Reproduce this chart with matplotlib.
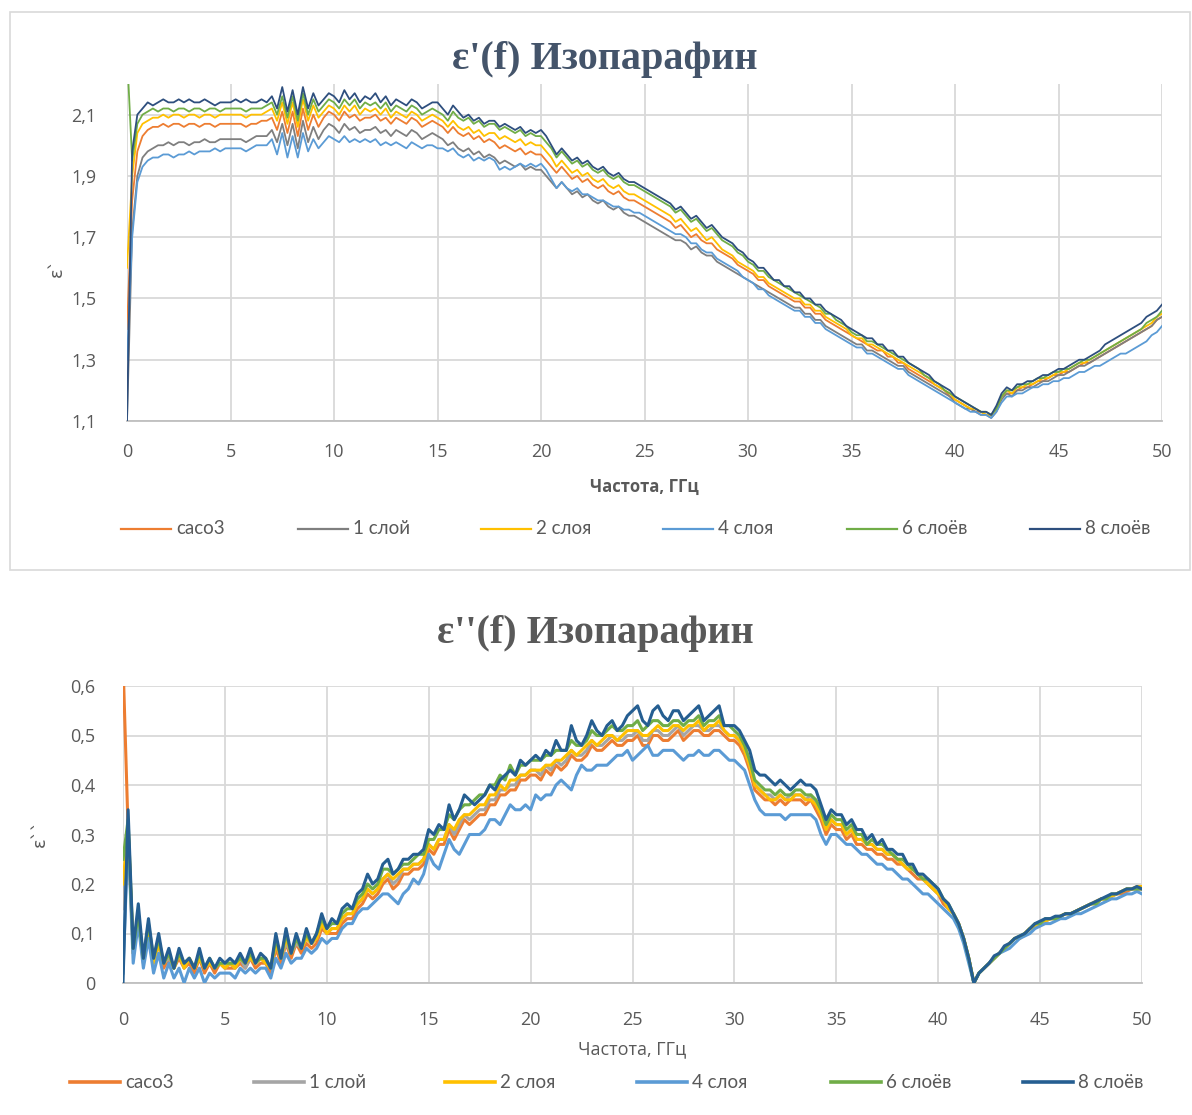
import numpy as np
import matplotlib
matplotlib.use('Agg')
import matplotlib.pyplot as plt
from matplotlib.lines import Line2D
from matplotlib.patches import Rectangle

# Frequency grid, GHz (0 ... 50 with 0.25 step)
freq = np.arange(0, 50.001, 0.25)

series_names = ['caco3', '1 слой', '2 слоя', '4 слоя', '6 слоёв', '8 слоёв']

# ---------- eps' (top chart) ----------
eps1_caco3 = [1.40,
    1.82, 1.98, 2.03, 2.05, 2.06, 2.06, 2.07, 2.06, 2.07, 2.07, 2.06, 2.07, 2.07, 2.06, 2.07, 2.07, 2.06, 2.07, 2.07, 2.07,
    2.07, 2.07, 2.06, 2.07, 2.07, 2.08, 2.08, 2.09, 2.05, 2.11, 2.04, 2.11, 2.03, 2.12, 2.05, 2.10, 2.06, 2.09, 2.11, 2.10,
    2.08, 2.11, 2.09, 2.10, 2.08, 2.09, 2.09, 2.10, 2.08, 2.09, 2.07, 2.09, 2.08, 2.07, 2.09, 2.08, 2.06, 2.07, 2.08, 2.07,
    2.06, 2.04, 2.06, 2.04, 2.03, 2.04, 2.02, 2.03, 2.01, 2.02, 2.01, 1.99, 2.00, 1.99, 1.98, 1.99, 1.97, 1.98, 1.97, 1.97,
    1.95, 1.93, 1.91, 1.93, 1.91, 1.89, 1.90, 1.88, 1.89, 1.87, 1.86, 1.87, 1.85, 1.84, 1.85, 1.83, 1.82, 1.82, 1.81, 1.80,
    1.79, 1.78, 1.77, 1.76, 1.75, 1.73, 1.74, 1.72, 1.70, 1.71, 1.69, 1.68, 1.68, 1.66, 1.65, 1.64, 1.63, 1.61, 1.60, 1.59,
    1.58, 1.56, 1.56, 1.54, 1.53, 1.52, 1.51, 1.50, 1.49, 1.49, 1.47, 1.47, 1.45, 1.45, 1.43, 1.42, 1.41, 1.40, 1.39, 1.38,
    1.37, 1.36, 1.35, 1.34, 1.33, 1.33, 1.31, 1.31, 1.29, 1.29, 1.27, 1.26, 1.25, 1.24, 1.23, 1.22, 1.21, 1.20, 1.18, 1.17,
    1.16, 1.15, 1.14, 1.13, 1.13, 1.12, 1.12, 1.14, 1.18, 1.19, 1.19, 1.20, 1.21, 1.21, 1.22, 1.23, 1.23, 1.24, 1.25, 1.25,
    1.26, 1.26, 1.27, 1.28, 1.29, 1.29, 1.30, 1.31, 1.32, 1.33, 1.34, 1.35, 1.36, 1.37, 1.38, 1.39, 1.40, 1.41, 1.43, 1.44]

eps1_layer1 = [1.10,
    1.72, 1.90, 1.96, 1.98, 1.99, 2.00, 2.00, 2.01, 2.00, 2.01, 2.01, 2.00, 2.01, 2.01, 2.02, 2.01, 2.01, 2.02, 2.02, 2.02,
    2.02, 2.02, 2.01, 2.02, 2.03, 2.03, 2.03, 2.05, 2.01, 2.07, 2.00, 2.07, 1.99, 2.08, 2.01, 2.06, 2.02, 2.05, 2.07, 2.06,
    2.04, 2.07, 2.05, 2.06, 2.04, 2.05, 2.05, 2.06, 2.04, 2.05, 2.03, 2.05, 2.04, 2.03, 2.05, 2.04, 2.02, 2.03, 2.04, 2.03,
    2.02, 2.00, 2.01, 1.99, 1.98, 1.99, 1.97, 1.98, 1.96, 1.97, 1.96, 1.94, 1.95, 1.94, 1.93, 1.94, 1.92, 1.93, 1.92, 1.92,
    1.90, 1.88, 1.86, 1.88, 1.86, 1.84, 1.85, 1.83, 1.84, 1.82, 1.81, 1.82, 1.80, 1.79, 1.80, 1.78, 1.77, 1.77, 1.76, 1.75,
    1.74, 1.73, 1.72, 1.71, 1.70, 1.69, 1.69, 1.68, 1.66, 1.67, 1.65, 1.64, 1.64, 1.62, 1.61, 1.60, 1.59, 1.58, 1.57, 1.56,
    1.55, 1.54, 1.53, 1.52, 1.51, 1.50, 1.49, 1.48, 1.47, 1.47, 1.45, 1.45, 1.43, 1.43, 1.41, 1.40, 1.39, 1.38, 1.37, 1.36,
    1.35, 1.35, 1.33, 1.33, 1.32, 1.31, 1.30, 1.29, 1.28, 1.28, 1.26, 1.25, 1.24, 1.23, 1.22, 1.21, 1.20, 1.19, 1.18, 1.16,
    1.15, 1.14, 1.14, 1.13, 1.12, 1.12, 1.11, 1.13, 1.17, 1.19, 1.18, 1.20, 1.20, 1.21, 1.21, 1.22, 1.23, 1.23, 1.24, 1.25,
    1.25, 1.26, 1.27, 1.28, 1.28, 1.29, 1.30, 1.31, 1.32, 1.33, 1.34, 1.35, 1.36, 1.37, 1.38, 1.39, 1.40, 1.41, 1.43, 1.44]

eps1_layer2 = [1.60,
    1.90, 2.04, 2.07, 2.08, 2.09, 2.09, 2.10, 2.09, 2.10, 2.10, 2.09, 2.10, 2.10, 2.09, 2.10, 2.10, 2.09, 2.10, 2.10, 2.10,
    2.10, 2.10, 2.09, 2.10, 2.10, 2.10, 2.11, 2.12, 2.08, 2.14, 2.07, 2.14, 2.06, 2.15, 2.08, 2.13, 2.09, 2.11, 2.13, 2.12,
    2.10, 2.13, 2.11, 2.13, 2.10, 2.12, 2.11, 2.12, 2.10, 2.12, 2.09, 2.11, 2.10, 2.09, 2.11, 2.10, 2.08, 2.09, 2.10, 2.09,
    2.08, 2.06, 2.08, 2.06, 2.05, 2.06, 2.04, 2.05, 2.03, 2.04, 2.04, 2.02, 2.03, 2.02, 2.01, 2.02, 2.00, 2.01, 2.00, 2.00,
    1.98, 1.96, 1.93, 1.95, 1.93, 1.91, 1.92, 1.90, 1.91, 1.89, 1.88, 1.89, 1.87, 1.86, 1.87, 1.85, 1.84, 1.84, 1.83, 1.82,
    1.81, 1.80, 1.79, 1.78, 1.77, 1.75, 1.76, 1.74, 1.72, 1.73, 1.71, 1.69, 1.70, 1.68, 1.66, 1.65, 1.64, 1.62, 1.61, 1.60,
    1.59, 1.57, 1.57, 1.55, 1.54, 1.53, 1.52, 1.51, 1.50, 1.50, 1.48, 1.48, 1.46, 1.46, 1.44, 1.43, 1.42, 1.41, 1.40, 1.38,
    1.37, 1.37, 1.35, 1.35, 1.34, 1.33, 1.32, 1.31, 1.30, 1.29, 1.28, 1.27, 1.26, 1.25, 1.24, 1.22, 1.21, 1.20, 1.19, 1.17,
    1.16, 1.15, 1.14, 1.14, 1.13, 1.12, 1.12, 1.14, 1.18, 1.20, 1.19, 1.21, 1.21, 1.22, 1.22, 1.23, 1.24, 1.24, 1.25, 1.26,
    1.26, 1.27, 1.28, 1.29, 1.29, 1.30, 1.31, 1.32, 1.33, 1.34, 1.35, 1.36, 1.37, 1.38, 1.39, 1.40, 1.41, 1.42, 1.44, 1.45]

eps1_layer4 = [1.30,
    1.70, 1.88, 1.93, 1.95, 1.96, 1.96, 1.97, 1.97, 1.96, 1.97, 1.97, 1.98, 1.97, 1.98, 1.98, 1.98, 1.99, 1.98, 1.99, 1.99,
    1.99, 1.99, 1.98, 1.99, 2.00, 2.00, 2.00, 2.02, 1.97, 2.04, 1.96, 2.03, 1.96, 2.04, 1.98, 2.02, 1.99, 2.01, 2.03, 2.02,
    2.01, 2.03, 2.01, 2.02, 2.01, 2.02, 2.01, 2.02, 2.00, 2.01, 2.00, 2.01, 2.00, 1.99, 2.01, 2.00, 1.99, 2.00, 2.00, 1.99,
    1.99, 1.98, 1.99, 1.97, 1.96, 1.97, 1.95, 1.96, 1.95, 1.96, 1.95, 1.92, 1.93, 1.92, 1.93, 1.94, 1.93, 1.94, 1.93, 1.94,
    1.92, 1.89, 1.86, 1.88, 1.86, 1.85, 1.86, 1.84, 1.84, 1.83, 1.82, 1.82, 1.81, 1.80, 1.80, 1.79, 1.79, 1.78, 1.78, 1.77,
    1.76, 1.75, 1.74, 1.73, 1.72, 1.71, 1.71, 1.70, 1.68, 1.68, 1.66, 1.65, 1.65, 1.63, 1.62, 1.61, 1.60, 1.59, 1.57, 1.56,
    1.55, 1.53, 1.53, 1.51, 1.50, 1.49, 1.48, 1.47, 1.46, 1.46, 1.44, 1.44, 1.42, 1.42, 1.40, 1.39, 1.38, 1.37, 1.36, 1.35,
    1.34, 1.34, 1.32, 1.32, 1.31, 1.30, 1.29, 1.28, 1.27, 1.27, 1.25, 1.24, 1.23, 1.22, 1.21, 1.20, 1.19, 1.18, 1.17, 1.16,
    1.15, 1.14, 1.13, 1.13, 1.12, 1.12, 1.11, 1.13, 1.16, 1.18, 1.18, 1.19, 1.19, 1.20, 1.21, 1.21, 1.22, 1.22, 1.23, 1.23,
    1.24, 1.24, 1.25, 1.26, 1.26, 1.27, 1.28, 1.28, 1.29, 1.30, 1.31, 1.32, 1.32, 1.33, 1.34, 1.35, 1.36, 1.38, 1.39, 1.41]

eps1_layer6 = [2.30,
    1.95, 2.07, 2.10, 2.11, 2.12, 2.11, 2.12, 2.12, 2.11, 2.12, 2.12, 2.11, 2.12, 2.12, 2.11, 2.12, 2.12, 2.11, 2.12, 2.12,
    2.12, 2.12, 2.11, 2.12, 2.12, 2.12, 2.13, 2.14, 2.10, 2.16, 2.09, 2.16, 2.08, 2.17, 2.10, 2.15, 2.11, 2.13, 2.15, 2.14,
    2.12, 2.15, 2.13, 2.15, 2.12, 2.14, 2.13, 2.14, 2.12, 2.14, 2.11, 2.13, 2.12, 2.11, 2.13, 2.12, 2.10, 2.11, 2.12, 2.11,
    2.10, 2.08, 2.11, 2.09, 2.08, 2.09, 2.07, 2.08, 2.06, 2.07, 2.07, 2.05, 2.06, 2.05, 2.04, 2.05, 2.03, 2.04, 2.03, 2.03,
    2.01, 1.99, 1.96, 1.98, 1.96, 1.94, 1.95, 1.93, 1.94, 1.92, 1.91, 1.92, 1.90, 1.89, 1.90, 1.88, 1.87, 1.87, 1.86, 1.85,
    1.84, 1.83, 1.82, 1.81, 1.80, 1.78, 1.79, 1.77, 1.75, 1.76, 1.74, 1.72, 1.73, 1.71, 1.69, 1.68, 1.67, 1.65, 1.64, 1.62,
    1.61, 1.59, 1.59, 1.57, 1.56, 1.55, 1.54, 1.53, 1.52, 1.51, 1.50, 1.49, 1.48, 1.47, 1.45, 1.45, 1.43, 1.42, 1.41, 1.39,
    1.38, 1.38, 1.36, 1.36, 1.35, 1.34, 1.33, 1.32, 1.31, 1.30, 1.29, 1.28, 1.27, 1.25, 1.24, 1.23, 1.22, 1.20, 1.19, 1.18,
    1.17, 1.16, 1.15, 1.14, 1.13, 1.13, 1.12, 1.14, 1.18, 1.20, 1.20, 1.21, 1.22, 1.22, 1.23, 1.24, 1.24, 1.25, 1.26, 1.26,
    1.27, 1.27, 1.28, 1.29, 1.30, 1.30, 1.31, 1.32, 1.33, 1.34, 1.35, 1.36, 1.37, 1.38, 1.39, 1.40, 1.42, 1.43, 1.44, 1.46]

eps1_layer8 = [1.10,
    1.98, 2.10, 2.12, 2.14, 2.13, 2.14, 2.15, 2.14, 2.14, 2.15, 2.14, 2.15, 2.14, 2.14, 2.15, 2.14, 2.13, 2.14, 2.14, 2.14,
    2.15, 2.14, 2.15, 2.14, 2.14, 2.15, 2.14, 2.16, 2.12, 2.19, 2.11, 2.18, 2.10, 2.19, 2.12, 2.17, 2.13, 2.15, 2.17, 2.16,
    2.14, 2.18, 2.15, 2.17, 2.14, 2.16, 2.15, 2.17, 2.14, 2.16, 2.13, 2.15, 2.14, 2.13, 2.15, 2.14, 2.12, 2.13, 2.14, 2.14,
    2.12, 2.10, 2.13, 2.11, 2.09, 2.10, 2.08, 2.09, 2.07, 2.08, 2.08, 2.06, 2.07, 2.06, 2.05, 2.06, 2.04, 2.05, 2.04, 2.05,
    2.03, 2.00, 1.97, 1.99, 1.97, 1.95, 1.96, 1.94, 1.95, 1.93, 1.92, 1.93, 1.91, 1.90, 1.91, 1.89, 1.88, 1.88, 1.87, 1.86,
    1.85, 1.84, 1.83, 1.82, 1.81, 1.79, 1.80, 1.78, 1.76, 1.77, 1.75, 1.73, 1.74, 1.72, 1.70, 1.69, 1.68, 1.66, 1.65, 1.63,
    1.62, 1.60, 1.60, 1.58, 1.56, 1.56, 1.54, 1.54, 1.52, 1.52, 1.50, 1.50, 1.48, 1.48, 1.46, 1.45, 1.44, 1.43, 1.41, 1.40,
    1.39, 1.38, 1.37, 1.37, 1.35, 1.35, 1.33, 1.33, 1.31, 1.31, 1.29, 1.28, 1.27, 1.26, 1.25, 1.23, 1.22, 1.21, 1.20, 1.18,
    1.17, 1.16, 1.15, 1.14, 1.13, 1.13, 1.12, 1.15, 1.19, 1.21, 1.20, 1.22, 1.22, 1.23, 1.23, 1.24, 1.25, 1.25, 1.26, 1.27,
    1.27, 1.28, 1.29, 1.30, 1.30, 1.31, 1.32, 1.33, 1.35, 1.36, 1.37, 1.38, 1.39, 1.40, 1.41, 1.42, 1.44, 1.45, 1.46, 1.48]

# ---------- eps'' (bottom chart) ----------
eps2_caco3 = [0.65,
    0.31, 0.06, 0.13, 0.04, 0.10, 0.04, 0.08, 0.03, 0.05, 0.03, 0.05, 0.03, 0.04, 0.02, 0.05, 0.02, 0.04, 0.02, 0.04, 0.03,
    0.03, 0.03, 0.04, 0.03, 0.05, 0.03, 0.04, 0.04, 0.02, 0.07, 0.04, 0.08, 0.05, 0.08, 0.06, 0.08, 0.07, 0.08, 0.11, 0.10,
    0.10, 0.10, 0.12, 0.13, 0.13, 0.15, 0.16, 0.18, 0.17, 0.18, 0.20, 0.21, 0.19, 0.20, 0.22, 0.22, 0.23, 0.23, 0.24, 0.27,
    0.26, 0.28, 0.28, 0.31, 0.29, 0.31, 0.33, 0.32, 0.33, 0.34, 0.34, 0.36, 0.36, 0.38, 0.38, 0.39, 0.39, 0.41, 0.41, 0.42,
    0.42, 0.41, 0.43, 0.42, 0.44, 0.43, 0.44, 0.46, 0.45, 0.45, 0.46, 0.48, 0.47, 0.47, 0.48, 0.49, 0.48, 0.48, 0.49, 0.49,
    0.50, 0.48, 0.48, 0.50, 0.50, 0.49, 0.49, 0.50, 0.51, 0.49, 0.50, 0.51, 0.51, 0.50, 0.50, 0.51, 0.51, 0.50, 0.49, 0.49,
    0.48, 0.46, 0.43, 0.39, 0.38, 0.37, 0.37, 0.36, 0.37, 0.36, 0.37, 0.37, 0.37, 0.36, 0.37, 0.35, 0.33, 0.30, 0.32, 0.31,
    0.31, 0.29, 0.30, 0.28, 0.28, 0.27, 0.27, 0.26, 0.26, 0.25, 0.25, 0.24, 0.24, 0.23, 0.22, 0.21, 0.21, 0.20, 0.19, 0.18,
    0.16, 0.15, 0.14, 0.12, 0.09, 0.05, 0.00, 0.02, 0.03, 0.04, 0.05, 0.06, 0.07, 0.08, 0.09, 0.09, 0.10, 0.11, 0.115, 0.12,
    0.125, 0.13, 0.13, 0.135, 0.14, 0.14, 0.145, 0.15, 0.155, 0.16, 0.16, 0.17, 0.17, 0.175, 0.18, 0.18, 0.185, 0.19, 0.19, 0.19]

eps2_layer1 = [0.15,
    0.31, 0.06, 0.13, 0.05, 0.11, 0.04, 0.08, 0.04, 0.05, 0.03, 0.06, 0.03, 0.05, 0.03, 0.05, 0.03, 0.04, 0.03, 0.04, 0.03,
    0.04, 0.03, 0.05, 0.03, 0.05, 0.04, 0.05, 0.04, 0.03, 0.08, 0.05, 0.08, 0.06, 0.08, 0.07, 0.09, 0.08, 0.09, 0.12, 0.10,
    0.11, 0.11, 0.13, 0.14, 0.14, 0.16, 0.17, 0.19, 0.18, 0.19, 0.21, 0.22, 0.20, 0.21, 0.23, 0.23, 0.24, 0.24, 0.25, 0.28,
    0.27, 0.29, 0.29, 0.32, 0.30, 0.32, 0.34, 0.33, 0.34, 0.35, 0.35, 0.37, 0.37, 0.39, 0.39, 0.40, 0.40, 0.42, 0.42, 0.43,
    0.43, 0.42, 0.44, 0.43, 0.45, 0.44, 0.45, 0.47, 0.46, 0.46, 0.47, 0.49, 0.48, 0.48, 0.49, 0.50, 0.49, 0.49, 0.50, 0.50,
    0.51, 0.49, 0.49, 0.51, 0.51, 0.50, 0.50, 0.51, 0.52, 0.50, 0.51, 0.52, 0.52, 0.51, 0.51, 0.52, 0.52, 0.51, 0.50, 0.50,
    0.49, 0.47, 0.44, 0.40, 0.39, 0.38, 0.38, 0.37, 0.38, 0.37, 0.38, 0.38, 0.38, 0.37, 0.38, 0.36, 0.34, 0.31, 0.33, 0.32,
    0.32, 0.30, 0.31, 0.29, 0.29, 0.28, 0.28, 0.27, 0.27, 0.26, 0.26, 0.25, 0.24, 0.23, 0.23, 0.22, 0.21, 0.20, 0.19, 0.18,
    0.17, 0.15, 0.14, 0.12, 0.09, 0.05, 0.00, 0.02, 0.03, 0.04, 0.05, 0.06, 0.07, 0.08, 0.09, 0.09, 0.10, 0.11, 0.115, 0.12,
    0.125, 0.13, 0.13, 0.135, 0.14, 0.14, 0.145, 0.15, 0.155, 0.16, 0.165, 0.17, 0.17, 0.175, 0.18, 0.185, 0.19, 0.19, 0.19, 0.19]

eps2_layer2 = [0.20,
    0.32, 0.06, 0.13, 0.05, 0.11, 0.04, 0.08, 0.04, 0.06, 0.03, 0.06, 0.03, 0.05, 0.03, 0.05, 0.03, 0.04, 0.03, 0.04, 0.03,
    0.04, 0.03, 0.05, 0.04, 0.05, 0.04, 0.05, 0.04, 0.03, 0.08, 0.05, 0.09, 0.06, 0.09, 0.07, 0.09, 0.08, 0.09, 0.12, 0.10,
    0.11, 0.11, 0.13, 0.14, 0.14, 0.16, 0.17, 0.19, 0.18, 0.19, 0.21, 0.22, 0.21, 0.22, 0.23, 0.23, 0.24, 0.24, 0.25, 0.28,
    0.27, 0.29, 0.29, 0.32, 0.31, 0.33, 0.34, 0.34, 0.35, 0.36, 0.36, 0.38, 0.38, 0.40, 0.39, 0.41, 0.41, 0.42, 0.42, 0.43,
    0.43, 0.43, 0.44, 0.44, 0.45, 0.45, 0.46, 0.47, 0.46, 0.47, 0.48, 0.49, 0.48, 0.49, 0.50, 0.50, 0.49, 0.50, 0.51, 0.51,
    0.51, 0.50, 0.50, 0.51, 0.52, 0.51, 0.51, 0.52, 0.52, 0.51, 0.52, 0.52, 0.53, 0.51, 0.52, 0.52, 0.53, 0.51, 0.50, 0.50,
    0.49, 0.47, 0.44, 0.40, 0.39, 0.38, 0.37, 0.37, 0.38, 0.37, 0.37, 0.38, 0.38, 0.37, 0.37, 0.36, 0.34, 0.31, 0.33, 0.32,
    0.32, 0.30, 0.31, 0.29, 0.29, 0.28, 0.28, 0.27, 0.27, 0.26, 0.26, 0.25, 0.24, 0.23, 0.23, 0.22, 0.21, 0.20, 0.19, 0.18,
    0.17, 0.15, 0.14, 0.12, 0.09, 0.05, 0.00, 0.02, 0.03, 0.04, 0.05, 0.06, 0.07, 0.08, 0.09, 0.09, 0.10, 0.11, 0.115, 0.12,
    0.125, 0.13, 0.13, 0.135, 0.14, 0.14, 0.145, 0.15, 0.155, 0.16, 0.165, 0.17, 0.17, 0.175, 0.18, 0.185, 0.19, 0.19, 0.195, 0.195]

eps2_layer4 = [0.02,
    0.30, 0.04, 0.12, 0.03, 0.09, 0.02, 0.06, 0.01, 0.04, 0.01, 0.03, 0.00, 0.03, 0.01, 0.03, 0.00, 0.02, 0.01, 0.02, 0.02,
    0.02, 0.01, 0.03, 0.02, 0.03, 0.02, 0.03, 0.03, 0.01, 0.05, 0.03, 0.06, 0.04, 0.05, 0.05, 0.07, 0.06, 0.07, 0.09, 0.08,
    0.09, 0.09, 0.11, 0.12, 0.12, 0.14, 0.15, 0.15, 0.16, 0.17, 0.18, 0.18, 0.17, 0.16, 0.18, 0.19, 0.21, 0.20, 0.22, 0.26,
    0.24, 0.23, 0.26, 0.29, 0.27, 0.26, 0.28, 0.30, 0.30, 0.30, 0.31, 0.33, 0.33, 0.32, 0.34, 0.36, 0.35, 0.35, 0.36, 0.35,
    0.38, 0.37, 0.38, 0.38, 0.40, 0.41, 0.40, 0.39, 0.42, 0.44, 0.43, 0.43, 0.44, 0.44, 0.44, 0.45, 0.46, 0.46, 0.47, 0.45,
    0.46, 0.47, 0.48, 0.46, 0.46, 0.47, 0.47, 0.47, 0.46, 0.45, 0.46, 0.46, 0.47, 0.46, 0.46, 0.47, 0.47, 0.46, 0.45, 0.45,
    0.44, 0.43, 0.40, 0.37, 0.35, 0.34, 0.34, 0.34, 0.34, 0.33, 0.34, 0.34, 0.34, 0.34, 0.34, 0.33, 0.30, 0.28, 0.30, 0.30,
    0.29, 0.28, 0.28, 0.27, 0.26, 0.26, 0.25, 0.24, 0.24, 0.23, 0.23, 0.22, 0.21, 0.21, 0.20, 0.19, 0.18, 0.18, 0.17, 0.16,
    0.15, 0.14, 0.13, 0.11, 0.08, 0.04, 0.00, 0.02, 0.03, 0.04, 0.05, 0.06, 0.065, 0.07, 0.08, 0.09, 0.095, 0.10, 0.11, 0.115,
    0.12, 0.12, 0.125, 0.13, 0.13, 0.135, 0.14, 0.14, 0.145, 0.15, 0.155, 0.16, 0.165, 0.17, 0.17, 0.175, 0.18, 0.18, 0.185, 0.18]

eps2_layer6 = [0.25,
    0.33, 0.07, 0.14, 0.05, 0.12, 0.05, 0.09, 0.04, 0.06, 0.03, 0.06, 0.04, 0.05, 0.03, 0.06, 0.03, 0.05, 0.03, 0.04, 0.04,
    0.04, 0.04, 0.05, 0.04, 0.06, 0.04, 0.05, 0.05, 0.03, 0.09, 0.05, 0.10, 0.06, 0.09, 0.07, 0.10, 0.08, 0.10, 0.13, 0.11,
    0.12, 0.12, 0.14, 0.15, 0.15, 0.17, 0.18, 0.20, 0.19, 0.20, 0.23, 0.23, 0.22, 0.23, 0.24, 0.24, 0.25, 0.26, 0.26, 0.29,
    0.29, 0.31, 0.31, 0.34, 0.33, 0.35, 0.36, 0.36, 0.37, 0.38, 0.38, 0.40, 0.40, 0.42, 0.41, 0.44, 0.42, 0.44, 0.44, 0.45,
    0.45, 0.45, 0.46, 0.46, 0.47, 0.47, 0.47, 0.49, 0.48, 0.48, 0.49, 0.51, 0.50, 0.50, 0.51, 0.52, 0.51, 0.51, 0.52, 0.52,
    0.53, 0.51, 0.52, 0.53, 0.53, 0.52, 0.52, 0.53, 0.53, 0.52, 0.53, 0.53, 0.54, 0.52, 0.53, 0.53, 0.54, 0.52, 0.52, 0.51,
    0.50, 0.48, 0.45, 0.41, 0.40, 0.39, 0.39, 0.38, 0.39, 0.38, 0.38, 0.39, 0.39, 0.38, 0.38, 0.37, 0.35, 0.32, 0.34, 0.33,
    0.33, 0.31, 0.32, 0.30, 0.30, 0.28, 0.29, 0.28, 0.28, 0.27, 0.26, 0.25, 0.25, 0.24, 0.23, 0.22, 0.21, 0.21, 0.20, 0.19,
    0.17, 0.16, 0.14, 0.12, 0.09, 0.05, 0.00, 0.02, 0.03, 0.04, 0.05, 0.06, 0.07, 0.08, 0.09, 0.095, 0.10, 0.11, 0.12, 0.12,
    0.13, 0.13, 0.13, 0.135, 0.14, 0.14, 0.145, 0.15, 0.155, 0.16, 0.16, 0.17, 0.17, 0.18, 0.18, 0.185, 0.19, 0.19, 0.19, 0.19]

eps2_layer8 = [0.00,
    0.35, 0.07, 0.16, 0.05, 0.13, 0.05, 0.10, 0.04, 0.07, 0.03, 0.07, 0.04, 0.05, 0.03, 0.07, 0.03, 0.05, 0.03, 0.05, 0.04,
    0.05, 0.04, 0.06, 0.04, 0.07, 0.04, 0.06, 0.05, 0.03, 0.10, 0.05, 0.11, 0.06, 0.10, 0.07, 0.11, 0.08, 0.10, 0.14, 0.11,
    0.13, 0.12, 0.15, 0.16, 0.15, 0.18, 0.19, 0.22, 0.20, 0.21, 0.24, 0.25, 0.22, 0.23, 0.25, 0.25, 0.26, 0.26, 0.27, 0.31,
    0.30, 0.32, 0.31, 0.36, 0.33, 0.35, 0.38, 0.37, 0.36, 0.37, 0.38, 0.40, 0.39, 0.41, 0.42, 0.43, 0.42, 0.45, 0.44, 0.45,
    0.46, 0.45, 0.47, 0.46, 0.49, 0.47, 0.47, 0.52, 0.49, 0.48, 0.50, 0.53, 0.51, 0.50, 0.52, 0.53, 0.51, 0.52, 0.54, 0.55,
    0.56, 0.53, 0.52, 0.55, 0.56, 0.54, 0.53, 0.55, 0.55, 0.53, 0.54, 0.55, 0.56, 0.53, 0.54, 0.55, 0.56, 0.52, 0.52, 0.52,
    0.51, 0.49, 0.47, 0.43, 0.42, 0.42, 0.41, 0.40, 0.41, 0.40, 0.39, 0.40, 0.41, 0.40, 0.40, 0.39, 0.36, 0.33, 0.35, 0.34,
    0.34, 0.32, 0.33, 0.31, 0.31, 0.29, 0.30, 0.28, 0.29, 0.27, 0.27, 0.26, 0.26, 0.24, 0.24, 0.22, 0.22, 0.21, 0.20, 0.19,
    0.17, 0.16, 0.14, 0.12, 0.09, 0.05, 0.00, 0.02, 0.03, 0.04, 0.055, 0.06, 0.075, 0.08, 0.09, 0.095, 0.10, 0.11, 0.12, 0.125,
    0.13, 0.13, 0.135, 0.135, 0.14, 0.14, 0.145, 0.15, 0.155, 0.16, 0.165, 0.17, 0.175, 0.18, 0.18, 0.185, 0.19, 0.19, 0.195, 0.19]

eps1_all = [eps1_caco3, eps1_layer1, eps1_layer2, eps1_layer4, eps1_layer6, eps1_layer8]
eps2_all = [eps2_caco3, eps2_layer1, eps2_layer2, eps2_layer4, eps2_layer6, eps2_layer8]

top_yticks = [1.1, 1.3, 1.5, 1.7, 1.9, 2.1]
bot_yticks = [0.0, 0.1, 0.2, 0.3, 0.4, 0.5, 0.6]
xticks = [0, 5, 10, 15, 20, 25, 30, 35, 40, 45, 50]

colors_top = ['#ED7D31', '#7F7F7F', '#FFC000', '#5B9BD5', '#70AD47', '#2E4F7E']
colors_bot = ['#ED7D31', '#A5A5A5', '#FFC000', '#5B9BD5', '#70AD47', '#255E91']

def comma(v, nd=1):
    s = f'{v:.{nd}f}'.replace('.', ',')
    return '0' if s == '0,0' else s

tick_font = 'Open Sans'
txt_color = '#595959'
grid_color = '#D9D9D9'

fig = plt.figure(figsize=(11.92, 11.15), dpi=100)

# border of the upper chart
fig.add_artist(Rectangle((10 / 1192, 1 - 570 / 1115), 1180 / 1192, 558 / 1115,
                         transform=fig.transFigure, fill=False, edgecolor='#D9D9D9', lw=1.2))

def style_axes(ax, yticks, ylim, pad_y, pad_x):
    ax.set_xlim(0, 50)
    ax.set_ylim(*ylim)
    ax.set_xticks(xticks)
    ax.set_xticklabels([str(x) for x in xticks], fontsize=13, color=txt_color, family=tick_font)
    ax.set_yticks(yticks)
    ax.set_yticklabels([comma(v) for v in yticks], fontsize=13, color=txt_color, family=tick_font)
    ax.tick_params(length=0)
    ax.tick_params(axis='y', pad=pad_y)
    ax.tick_params(axis='x', pad=pad_x)
    ax.grid(True, color=grid_color, lw=1.3)
    ax.set_axisbelow(True)
    for s in ['top', 'left', 'right']:
        ax.spines[s].set_visible(False)
    ax.spines['bottom'].set_color('#BFBFBF')
    ax.spines['bottom'].set_linewidth(1.3)

# ---------------- top chart ----------------
ax1 = fig.add_axes([127 / 1192, 1 - 421 / 1115, 1035 / 1192, 337 / 1115])
for i, (vals, c) in enumerate(zip(eps1_all, colors_top)):
    ax1.plot(freq, vals, color=c, lw=1.3, zorder=3 + i, clip_on=True)
style_axes(ax1, top_yticks, (1.1, 2.2), 22, 16)
ax1.set_xlabel('Частота, ГГц', fontsize=12, fontweight='bold', color=txt_color,
               family=tick_font, labelpad=12)
fig.text(57 / 1192, 1 - 268 / 1115, 'ε`', rotation=90, fontsize=13, color=txt_color,
         ha='center', va='center', family='DejaVu Sans')
fig.text(605 / 1192, 1 - 59 / 1115, "ε'(f) Изопарафин", fontsize=29, fontweight='bold',
         family='Liberation Serif', color='#44546A', ha='center', va='center')

# ---------------- bottom chart ----------------
ax2 = fig.add_axes([123 / 1192, 1 - 983 / 1115, 1019 / 1192, 297 / 1115])
for i, (vals, c) in enumerate(zip(eps2_all, colors_bot)):
    ax2.plot(freq, vals, color=c, lw=2.2, zorder=3 + i, clip_on=True)
style_axes(ax2, bot_yticks, (0, 0.6), 20, 20)
ax2.set_xlabel('Частота, ГГц', fontsize=13, color=txt_color, family=tick_font, labelpad=8)
fig.text(40 / 1192, 1 - 833 / 1115, 'ε``', rotation=90, fontsize=13, color=txt_color,
         ha='center', va='center', family='DejaVu Sans')
fig.text(595 / 1192, 1 - 634 / 1115, "ε''(f) Изопарафин", fontsize=29, fontweight='bold',
         family='Liberation Serif', color='#595959', ha='center', va='center')

# ---------------- legends ----------------
def draw_legend(x_starts, y_px, colors, lw):
    y = 1 - y_px / 1115
    for x0, name, c in zip(x_starts, series_names, colors):
        fig.add_artist(Line2D([x0 / 1192, (x0 + 50) / 1192], [y, y], transform=fig.transFigure,
                              color=c, lw=lw))
        fig.text((x0 + 55) / 1192, y, name, fontsize=13.5, color=txt_color, family='Lato',
                 ha='left', va='center')

draw_legend([121, 298, 481, 663, 847, 1030], 529, colors_top, 1.6)
draw_legend([70, 254, 445, 637, 831, 1023], 1082, colors_bot, 2.6)

fig.savefig('out.png', dpi=100)
